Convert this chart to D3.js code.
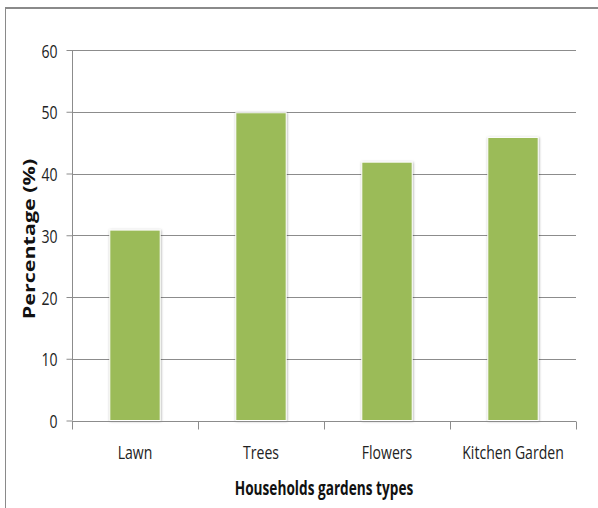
<!DOCTYPE html>
<html><head><meta charset="utf-8">
<script src="https://cdn.jsdelivr.net/npm/d3@7"></script>
<style>
html,body{margin:0;padding:0;background:#fff;}
text{font-family:"Open Sans","Liberation Sans",sans-serif;}
</style></head>
<body><div id="chart"></div>
<script>
const categories = ["Lawn", "Trees", "Flowers", "Kitchen Garden"];
const values = [31, 50, 42, 46];
const yTicks = [0, 10, 20, 30, 40, 50, 60];
const xTitle = "Households gardens types";
const yTitle = "Percentage (%)";

const W = 598, H = 508;
const m = {left: 72, right: 22, top: 50, bottom: 87.5};
const SX = 0.74; // narrow face look
const svg = d3.select("#chart").append("svg").attr("width", W).attr("height", H);

const defs = svg.append("defs");
const f = defs.append("filter").attr("id", "sh").attr("x", "-20%").attr("y", "-20%").attr("width", "140%").attr("height", "140%");
f.append("feDropShadow").attr("dx", 0.5).attr("dy", 0.5).attr("stdDeviation", 1.3).attr("flood-color", "#000").attr("flood-opacity", 0.35);

// outer frame
svg.append("line").attr("x1", 5).attr("x2", W).attr("y1", 8).attr("y2", 8).attr("stroke", "#8a8a8a").attr("stroke-width", 2);
svg.append("line").attr("x1", 5.5).attr("x2", 5.5).attr("y1", 8).attr("y2", H).attr("stroke", "#8a8a8a").attr("stroke-width", 1);

const x = d3.scaleBand().domain(categories).range([m.left, W - m.right]).paddingInner(0.6).paddingOuter(0.3);
const y = d3.scaleLinear().domain([0, 60]).range([H - m.bottom, m.top]);

// gridlines
svg.append("g").selectAll("line").data(yTicks.filter(d => d > 0)).join("line")
  .attr("x1", m.left).attr("x2", W - m.right)
  .attr("y1", d => Math.round(y(d)) + 0.5).attr("y2", d => Math.round(y(d)) + 0.5)
  .attr("stroke", "#8c8c8c").attr("stroke-width", 1);

// bars
svg.append("g").selectAll("rect").data(values).join("rect")
  .attr("x", (d, i) => x(categories[i]))
  .attr("width", x.bandwidth())
  .attr("y", d => y(d) + 1)
  .attr("height", d => y(0) - y(d) - 1)
  .attr("fill", "#9bbb59")
  .attr("stroke", "#fff").attr("stroke-width", 1)
  .attr("filter", "url(#sh)");

// y axis
const ya = svg.append("g").attr("transform", `translate(${m.left + 0.5},0)`)
  .call(d3.axisLeft(y).tickValues(yTicks).tickSize(6).tickPadding(9).tickFormat(d3.format("d")));
ya.select(".domain").attr("stroke", "#8c8c8c").attr("d", `M0,${y(60)}V${y(0)}`);
ya.selectAll(".tick line").attr("stroke", "#8c8c8c");
ya.selectAll(".tick text")
  .attr("x", null).attr("dy", null)
  .attr("transform", `translate(-15,7) scale(${SX},1)`)
  .attr("font-size", 19).attr("fill", "#222")
  .attr("font-family", '"Open Sans",sans-serif');

// x axis
const xa = svg.append("g").attr("transform", `translate(0,${Math.round(y(0)) + 0.5})`);
xa.append("line").attr("x1", m.left).attr("x2", W - m.right).attr("stroke", "#8c8c8c");
xa.selectAll(".tk").data(d3.range(categories.length + 1)).join("line").attr("class", "tk")
  .attr("x1", i => Math.round(m.left + i * (W - m.right - m.left) / categories.length) + 0.5)
  .attr("x2", i => Math.round(m.left + i * (W - m.right - m.left) / categories.length) + 0.5)
  .attr("y1", 0).attr("y2", 8).attr("stroke", "#8c8c8c");
xa.selectAll(".lb").data(categories).join("text").attr("class", "lb")
  .attr("transform", d => `translate(${x(d) + x.bandwidth() / 2},37.5) scale(${SX},1)`)
  .attr("text-anchor", "middle").attr("font-size", 19).attr("fill", "#222")
  .text(d => d);

// titles
svg.append("text")
  .attr("transform", `translate(${(m.left + W - m.right) / 2},495) scale(0.7,1)`)
  .attr("text-anchor", "middle").attr("font-size", 19.5).attr("font-weight", "bold").attr("fill", "#111")
  .text(xTitle);
svg.append("text")
  .attr("transform", `translate(35,239) scale(0.72,1) rotate(-90)`)
  .attr("text-anchor", "middle").attr("font-size", 21.5).attr("font-weight", "bold").attr("fill", "#111")
  .text(yTitle);
</script></body></html>
